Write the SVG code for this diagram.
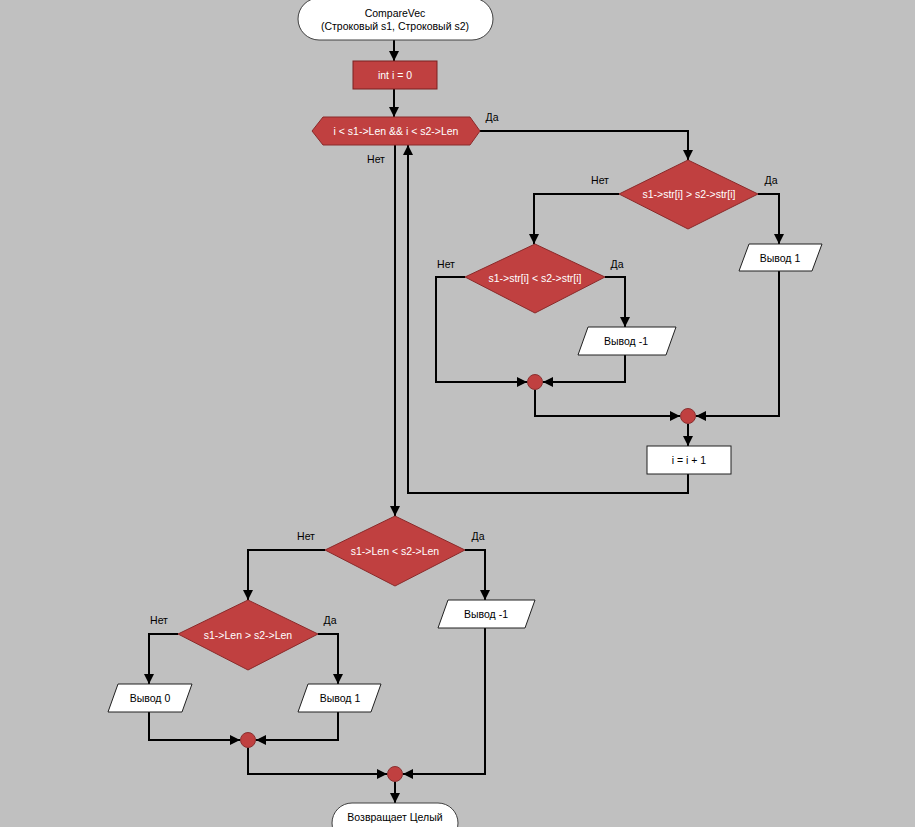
<svg xmlns="http://www.w3.org/2000/svg" width="915" height="827" viewBox="0 0 915 827">
  <style>
    text { font-family: "Liberation Sans", Arial, sans-serif; font-size: 10.5px; text-anchor: middle; dominant-baseline: central; }
    .lbl { text-anchor: middle; fill: #000; }
    .term { fill: #ffffff; stroke: #404040; stroke-width: 1; }
    .io { fill: #ffffff; stroke: #202020; stroke-width: 1; }
    .proc-red { fill: #c04040; stroke: #7a2020; stroke-width: 1; }
    .proc-white { fill: #ffffff; stroke: #202020; stroke-width: 1; }
    .dec { fill: #c04040; stroke: #8a2a2a; stroke-width: 1; }
    .join { fill: #c04040; stroke: #8a3030; stroke-width: 1; }
    .wt { fill: #ffffff; }
    .bk { fill: #000000; }
    .edge { fill: none; stroke: #000; stroke-width: 2; marker-end: url(#arr); }
  </style>
  <defs>
    <marker id="arr" viewBox="0 0 10 10" refX="10" refY="5" markerWidth="5" markerHeight="5" orient="auto" markerUnits="strokeWidth">
      <path d="M0,0 L10,5 L0,10 z" fill="#000"/>
    </marker>
  </defs>
  <rect width="915" height="827" fill="#c0c0c0"/>

  <g id="connectors">
    <path class="edge" d="M394,40 V61"/>
    <path class="edge" d="M394,89 V117"/>
    <path class="edge" d="M480,131 H688 V160"/>
    <path class="edge" d="M758,194 H779 V244"/>
    <path class="edge" d="M619,194 H534 V244"/>
    <path class="edge" d="M605,277 H625 V327"/>
    <path class="edge" d="M465,277 H436 V382 H527"/>
    <path class="edge" d="M625,355 V382 H543"/>
    <path class="edge" d="M535,390 V416 H680"/>
    <path class="edge" d="M779,271 V416 H696"/>
    <path class="edge" d="M688,424 V446"/>
    <path class="edge" d="M688,474 V493 H408 V145"/>
    <path class="edge" d="M395,145 V516"/>
    <path class="edge" d="M465,550 H485 V600"/>
    <path class="edge" d="M325,550 H248 V600"/>
    <path class="edge" d="M178,634 H149 V684"/>
    <path class="edge" d="M318,634 H338 V684"/>
    <path class="edge" d="M149,712 V740 H240"/>
    <path class="edge" d="M338,712 V740 H256"/>
    <path class="edge" d="M248,748 V774 H387"/>
    <path class="edge" d="M485,628 V774 H403"/>
    <path class="edge" d="M395,782 V803"/>
  </g>

  <g id="labels">
    <text class="lbl" x="492" y="117">Да</text>
    <text class="lbl" x="376" y="159">Нет</text>
    <text class="lbl" x="600" y="180">Нет</text>
    <text class="lbl" x="771" y="180">Да</text>
    <text class="lbl" x="446" y="264">Нет</text>
    <text class="lbl" x="617" y="264">Да</text>
    <text class="lbl" x="306" y="536">Нет</text>
    <text class="lbl" x="478" y="536">Да</text>
    <text class="lbl" x="159" y="620">Нет</text>
    <text class="lbl" x="330" y="620">Да</text>
  </g>

  <g id="start">
    <rect class="term" x="298" y="-2" width="195" height="42" rx="21"/>
    <text class="bk" x="395" y="13">CompareVec</text>
    <text class="bk" x="395" y="26">(Строковый s1, Строковый s2)</text>
  </g>

  <g id="init">
    <rect class="proc-red" x="353" y="61" width="84" height="28"/>
    <text class="wt" x="395" y="75">int i = 0</text>
  </g>

  <g id="loop">
    <polygon class="dec" points="312,131 323,117 470,117 480,131 470,145 323,145"/>
    <text class="wt" x="396" y="131">i &lt; s1-&gt;Len &amp;&amp; i &lt; s2-&gt;Len</text>
  </g>

  <g id="cmp-gt">
    <polygon class="dec" points="688,160 758,194 688,229 619,194"/>
    <text class="wt" x="689" y="194">s1-&gt;str[i] &gt; s2-&gt;str[i]</text>
  </g>

  <g id="out-1a">
    <polygon class="io" points="749,244 822,244 812,271 739,271"/>
    <text class="bk" x="780" y="258">Вывод 1</text>
  </g>

  <g id="cmp-lt">
    <polygon class="dec" points="535,244 605,277 535,313 465,277"/>
    <text class="wt" x="535" y="278">s1-&gt;str[i] &lt; s2-&gt;str[i]</text>
  </g>

  <g id="out-neg1a">
    <polygon class="io" points="588,327 676,327 666,355 578,355"/>
    <text class="bk" x="626" y="341">Вывод -1</text>
  </g>

  <g id="join1">
    <circle class="join" cx="535" cy="382" r="7.5"/>
  </g>

  <g id="join2">
    <circle class="join" cx="688" cy="416" r="7.5"/>
  </g>

  <g id="incr">
    <rect class="proc-white" x="647" y="446" width="84" height="28"/>
    <text class="bk" x="689" y="460">i = i + 1</text>
  </g>

  <g id="len-lt">
    <polygon class="dec" points="395,516 465,550 395,586 325,550"/>
    <text class="wt" x="395" y="551">s1-&gt;Len &lt; s2-&gt;Len</text>
  </g>

  <g id="out-neg1b">
    <polygon class="io" points="448,600 535,600 525,628 438,628"/>
    <text class="bk" x="486" y="614">Вывод -1</text>
  </g>

  <g id="len-gt">
    <polygon class="dec" points="248,600 318,634 248,670 178,634"/>
    <text class="wt" x="248" y="635">s1-&gt;Len &gt; s2-&gt;Len</text>
  </g>

  <g id="out-0">
    <polygon class="io" points="118,684 192,684 182,712 108,712"/>
    <text class="bk" x="150" y="698">Вывод 0</text>
  </g>

  <g id="out-1b">
    <polygon class="io" points="308,684 381,684 371,712 298,712"/>
    <text class="bk" x="340" y="698">Вывод 1</text>
  </g>

  <g id="join3">
    <circle class="join" cx="248" cy="740" r="7.5"/>
  </g>

  <g id="join4">
    <circle class="join" cx="395" cy="774" r="7.5"/>
  </g>

  <g id="end">
    <rect class="term" x="332" y="803" width="126" height="40" rx="20"/>
    <text class="bk" x="395" y="817">Возвращает Целый</text>
  </g>
</svg>
